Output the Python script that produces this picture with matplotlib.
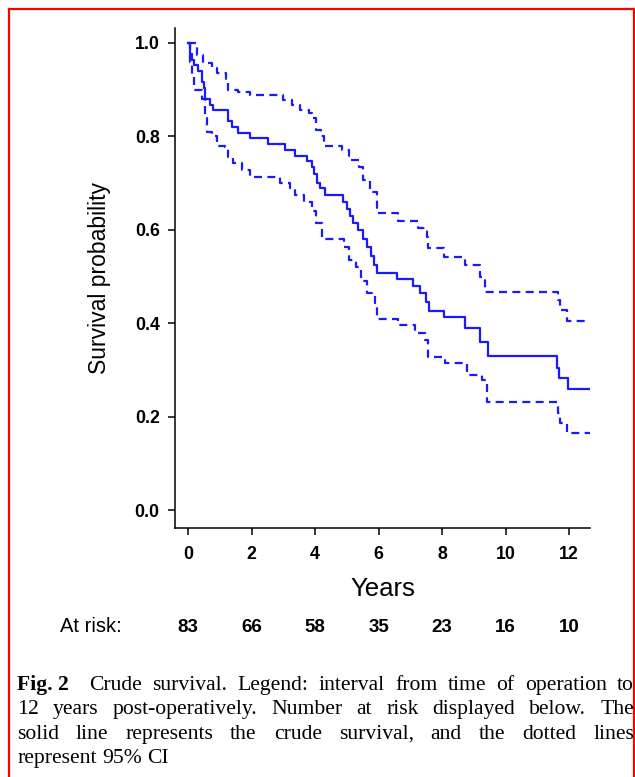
import matplotlib
matplotlib.use("Agg")
import matplotlib.pyplot as plt
from matplotlib.lines import Line2D

# Kaplan-Meier crude survival (step "post")
surv_t = [0, 0.06, 0.12, 0.18, 0.3, 0.44, 0.5, 0.54, 0.69, 0.79, 1.26, 1.4, 1.57, 1.95,
          2.52, 3.06, 3.37, 3.75, 3.9, 3.98, 4.06, 4.15, 4.31, 4.88, 5.0, 5.1, 5.2, 5.35,
          5.5, 5.64, 5.75, 5.85, 5.95, 6.58, 7.09, 7.3, 7.5, 7.6, 8.06, 8.72, 9.2, 9.45,
          11.62, 11.68, 11.97, 12.66]
surv_s = [1.0, 0.976, 0.964, 0.952, 0.94, 0.916, 0.904, 0.88, 0.868, 0.856, 0.832, 0.82,
          0.808, 0.796, 0.783, 0.771, 0.759, 0.747, 0.735, 0.72, 0.70, 0.69, 0.675, 0.66,
          0.645, 0.63, 0.615, 0.60, 0.58, 0.563, 0.545, 0.525, 0.507, 0.494, 0.48, 0.465,
          0.445, 0.426, 0.413, 0.39, 0.36, 0.33, 0.304, 0.283, 0.259, 0.259]

# upper 95% CI
upper_t = [0, 0.28, 0.47, 0.75, 0.9, 1.2, 1.25, 1.57, 1.95, 3.0, 3.27, 3.53, 3.8, 3.9,
           4.03, 4.19, 4.28, 4.85, 5.07, 5.39, 5.5, 5.73, 5.95, 6.6, 7.25, 7.53, 7.56,
           8.06, 8.72, 9.2, 9.35, 11.65, 11.72, 11.94, 12.66]
upper_s = [1.0, 0.975, 0.957, 0.946, 0.935, 0.915, 0.90, 0.895, 0.888, 0.878, 0.867,
           0.857, 0.85, 0.84, 0.814, 0.80, 0.78, 0.77, 0.75, 0.735, 0.706, 0.68, 0.636,
           0.62, 0.604, 0.585, 0.561, 0.542, 0.525, 0.50, 0.467, 0.45, 0.428, 0.405, 0.405]

# lower 95% CI
lower_t = [0, 0.05, 0.12, 0.2, 0.44, 0.55, 0.6, 0.75, 0.9, 1.17, 1.26, 1.42, 1.7, 1.95,
           2.9, 3.22, 3.37, 3.65, 3.9, 4.03, 4.22, 4.9, 5.07, 5.3, 5.45, 5.64, 5.88, 5.95,
           6.61, 7.15, 7.46, 7.56, 8.1, 8.79, 9.26, 9.42, 11.65, 11.72, 11.94, 12.66]
lower_s = [1.0, 0.96, 0.93, 0.90, 0.88, 0.84, 0.81, 0.80, 0.78, 0.777, 0.756, 0.743,
           0.728, 0.713, 0.70, 0.69, 0.675, 0.66, 0.64, 0.615, 0.58, 0.563, 0.535, 0.52,
           0.49, 0.465, 0.443, 0.41, 0.396, 0.38, 0.364, 0.328, 0.315, 0.29, 0.278, 0.231,
           0.208, 0.186, 0.165, 0.165]

risk_years = [0, 2, 4, 6, 8, 10, 12]
at_risk = [83, 66, 58, 35, 23, 16, 10]
y_ticks = [0.0, 0.2, 0.4, 0.6, 0.8, 1.0]

caption_lines = [
    "Crude survival. Legend: interval from time of operation to",
    "12 years post-operatively. Number at risk displayed below. The",
    "solid line represents the crude survival, and the dotted lines",
    "represent 95% CI",
]

W, H = 635, 777
fig = plt.figure(figsize=(W / 100, H / 100), dpi=100)
sans = "Liberation Sans"
serif = "Liberation Serif"

def fx(px):
    return px / W

def fy(py):
    return 1 - py / H

# axes placed in pixel terms of the reference
ax = fig.add_axes([fx(175), fy(528), fx(590) - fx(175), fy(28) - fy(528)])
blue = "#1a1aff"
ax.step(surv_t, surv_s, where="post", color=blue, lw=1.6)
ax.step(upper_t, upper_s, where="post", color=blue, lw=1.6, linestyle=(0, (3.6, 2.4)))
ax.step(lower_t, lower_s, where="post", color=blue, lw=1.6, linestyle=(0, (3.6, 2.4)))

ax.set_xlim(-0.41, 12.66)
ax.set_ylim(-0.038, 1.032)
ax.set_xticks(risk_years)
ax.set_yticks(y_ticks)
ax.set_yticklabels([f"{v:.1f}" for v in y_ticks])
for s in ["top", "right"]:
    ax.spines[s].set_visible(False)
for s in ["left", "bottom"]:
    ax.spines[s].set_linewidth(1.1)
ax.tick_params(direction="out", length=5, width=1.1)
ax.tick_params(axis="x", pad=8)
ax.tick_params(axis="y", pad=6)
for lab in ax.get_xticklabels() + ax.get_yticklabels():
    lab.set_fontfamily(sans)
    lab.set_fontsize(12.8)
    lab.set_fontweight("bold")

ax.set_xlabel("Years", fontsize=18.5, family=sans, labelpad=10)
ax.set_ylabel("Survival probability", fontsize=16.5, family=sans, labelpad=17)

# number at risk row
fig.text(fx(91), fy(627), "At risk:", ha="center", va="center", fontsize=14.5, family=sans)
for yr, n in zip(risk_years, at_risk):
    px = ax.transData.transform((yr, 0))[0]
    fig.text(px / W, fy(627), str(n), ha="center", va="center", fontsize=13.5,
             family=sans, fontweight="bold")

# red frame
red = "#ff0000"
fig.add_artist(Line2D([fx(9), fx(9)], [fy(9), 0], color=red, lw=1.6))
fig.add_artist(Line2D([fx(9), fx(633.5)], [fy(9), fy(9)], color=red, lw=1.6))
fig.add_artist(Line2D([fx(633.5), fx(633.5)], [fy(9), 0], color=red, lw=1.6))

# justified caption
fig.canvas.draw()
renderer = fig.canvas.get_renderer()
x0, x1 = 17, 634
baselines = [690, 714, 739, 763]

def place_line(words, y, justify, first_bold=False):
    texts = []
    for i, w in enumerate(words):
        weight = "bold" if (first_bold and i == 0) else "normal"
        t = fig.text(0, fy(y), w, ha="left", va="baseline", fontsize=15.6,
                     family=serif, fontweight=weight)
        texts.append(t)
    widths = [t.get_window_extent(renderer).width for t in texts]
    # the gap after the bold figure number counts double
    weights = [2.0 if (first_bold and i == 0) else 1.0 for i in range(len(words) - 1)]
    if justify:
        unit = (x1 - x0 - sum(widths)) / sum(weights)
    else:
        unit = 5.5
    x = x0
    for i, (t, w) in enumerate(zip(texts, widths)):
        t.set_x(fx(x))
        if i < len(weights):
            x += w + unit * weights[i]

place_line(["Fig. 2"] + caption_lines[0].split(), baselines[0], True, first_bold=True)
place_line(caption_lines[1].split(), baselines[1], True)
place_line(caption_lines[2].split(), baselines[2], True)
place_line(caption_lines[3].split(), baselines[3], False)

fig.savefig("out.png", dpi=100)
